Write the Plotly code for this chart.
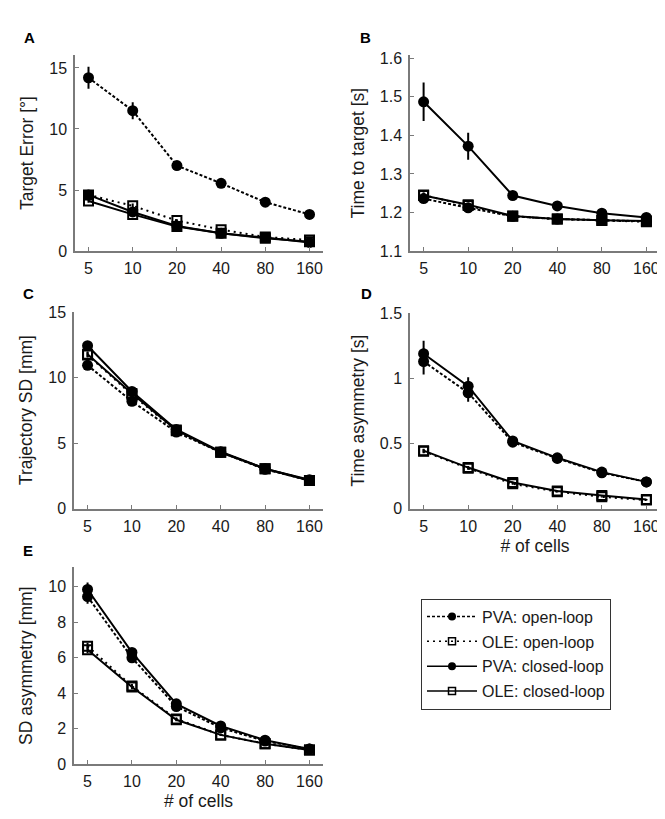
import plotly.graph_objects as go

W, H = 665, 819
cells = [5, 10, 20, 40, 80, 160]
cell_labels = ["5", "10", "20", "40", "80", "160"]

series_names = ["PVA: open-loop", "OLE: open-loop", "PVA: closed-loop", "OLE: closed-loop"]

# Panel A: Target error
A_pva_open = [14.2, 11.5, 7.0, 5.55, 4.0, 3.0]
A_pva_open_err = [0.9, 0.7, 0.35, 0.2, 0.15, 0.12]
A_ole_open = [4.6, 3.7, 2.5, 1.75, 1.15, 0.9]
A_ole_open_err = [0.2, 0.2, 0.1, 0.08, 0.06, 0.05]
A_pva_closed = [4.6, 3.2, 2.05, 1.45, 1.1, 0.7]
A_pva_closed_err = [0.2, 0.15, 0.1, 0.08, 0.06, 0.05]
A_ole_closed = [4.1, 3.0, 2.0, 1.45, 1.05, 0.75]
A_ole_closed_err = [0.15, 0.12, 0.08, 0.06, 0.05, 0.04]

# Panel B: Time to target
B_pva_open = [1.236, 1.212, 1.19, 1.183, 1.18, 1.177]
B_pva_open_err = [0.006, 0.005, 0.003, 0.002, 0.002, 0.002]
B_ole_open = [1.245, 1.218, 1.19, 1.183, 1.179, 1.176]
B_ole_open_err = [0.006, 0.005, 0.003, 0.002, 0.002, 0.002]
B_pva_closed = [1.487, 1.372, 1.244, 1.217, 1.198, 1.187]
B_pva_closed_err = [0.05, 0.035, 0.006, 0.004, 0.003, 0.003]
B_ole_closed = [1.244, 1.22, 1.191, 1.183, 1.18, 1.178]
B_ole_closed_err = [0.008, 0.005, 0.003, 0.002, 0.002, 0.002]

# Panel C: Trajectory SD
C_pva_open = [10.95, 8.2, 5.85, 4.3, 3.0, 2.15]
C_pva_open_err = [0.2, 0.15, 0.1, 0.08, 0.06, 0.05]
C_ole_open = [11.75, 8.7, 5.95, 4.3, 3.05, 2.15]
C_ole_open_err = [0.2, 0.15, 0.1, 0.08, 0.06, 0.05]
C_pva_closed = [12.45, 8.95, 6.05, 4.35, 3.05, 2.2]
C_pva_closed_err = [0.2, 0.15, 0.1, 0.08, 0.06, 0.05]
C_ole_closed = [11.8, 8.8, 6.0, 4.3, 3.05, 2.15]
C_ole_closed_err = [0.2, 0.15, 0.1, 0.08, 0.06, 0.05]

# Panel D: Time asymmetry
D_pva_open = [1.13, 0.89, 0.51, 0.385, 0.275, 0.205]
D_pva_open_err = [0.1, 0.07, 0.015, 0.01, 0.01, 0.008]
D_ole_open = [0.44, 0.31, 0.19, 0.13, 0.09, 0.065]
D_ole_open_err = [0.015, 0.012, 0.008, 0.006, 0.005, 0.004]
D_pva_closed = [1.19, 0.94, 0.52, 0.39, 0.28, 0.205]
D_pva_closed_err = [0.1, 0.07, 0.015, 0.01, 0.01, 0.008]
D_ole_closed = [0.445, 0.315, 0.2, 0.135, 0.1, 0.07]
D_ole_closed_err = [0.015, 0.012, 0.008, 0.006, 0.005, 0.004]

# Panel E: SD asymmetry
E_pva_open = [9.45, 6.0, 3.25, 2.05, 1.3, 0.85]
E_pva_open_err = [0.4, 0.2, 0.12, 0.08, 0.06, 0.05]
E_ole_open = [6.65, 4.4, 2.55, 1.65, 1.15, 0.8]
E_ole_open_err = [0.2, 0.12, 0.08, 0.06, 0.05, 0.04]
E_pva_closed = [9.85, 6.3, 3.4, 2.15, 1.35, 0.85]
E_pva_closed_err = [0.4, 0.2, 0.12, 0.08, 0.06, 0.05]
E_ole_closed = [6.45, 4.35, 2.5, 1.65, 1.15, 0.8]
E_ole_closed_err = [0.2, 0.12, 0.08, 0.06, 0.05, 0.04]

panels = [
    ("A", "Target Error [°]", [0, 16.05], [0, 5, 10, 15], ["0", "5", "10", "15"],
     [(A_pva_open, A_pva_open_err), (A_ole_open, A_ole_open_err),
      (A_pva_closed, A_pva_closed_err), (A_ole_closed, A_ole_closed_err)], False),
    ("B", "Time to target [s]", [1.1, 1.608], [1.1, 1.2, 1.3, 1.4, 1.5, 1.6],
     ["1.1", "1.2", "1.3", "1.4", "1.5", "1.6"],
     [(B_pva_open, B_pva_open_err), (B_ole_open, B_ole_open_err),
      (B_pva_closed, B_pva_closed_err), (B_ole_closed, B_ole_closed_err)], False),
    ("C", "Trajectory SD [mm]", [0, 15.05], [0, 5, 10, 15], ["0", "5", "10", "15"],
     [(C_pva_open, C_pva_open_err), (C_ole_open, C_ole_open_err),
      (C_pva_closed, C_pva_closed_err), (C_ole_closed, C_ole_closed_err)], False),
    ("D", "Time asymmetry [s]", [0, 1.505], [0, 0.5, 1, 1.5], ["0", "0.5", "1", "1.5"],
     [(D_pva_open, D_pva_open_err), (D_ole_open, D_ole_open_err),
      (D_pva_closed, D_pva_closed_err), (D_ole_closed, D_ole_closed_err)], True),
    ("E", "SD asymmetry [mm]", [0, 11.1], [0, 2, 4, 6, 8, 10], ["0", "2", "4", "6", "8", "10"],
     [(E_pva_open, E_pva_open_err), (E_ole_open, E_ole_open_err),
      (E_pva_closed, E_pva_closed_err), (E_ole_closed, E_ole_closed_err)], True),
]

# pixel boxes (left, right, top, bottom)
boxes = [
    (67, 315, 40, 240),
    (402, 652, 40, 240),
    (66, 315, 302, 503),
    (402, 652, 303, 503),
    (66, 315, 563, 764),
]
letter_pos = [(22, 22), (357, 22), (20, 283), (358, 283), (20, 546)]

styles = [
    dict(dash="3px,2px", symbol="circle"),
    dict(dash="2px,4px", symbol="square-open"),
    dict(dash="solid", symbol="circle"),
    dict(dash="solid", symbol="square-open"),
]

FONT = "Liberation Sans, Arial, sans-serif"
AX = "#7a7a7a"
TXT = "#1a1a1a"

fig = go.Figure()
layout = dict(
    width=W, height=H, margin=dict(l=0, r=0, t=0, b=0),
    paper_bgcolor="white", plot_bgcolor="white",
    font=dict(family=FONT, size=16, color=TXT),
    showlegend=True,
)
annotations = []

for i, (letter, ytitle, yr, yt, ytt, data, show_xtitle) in enumerate(panels):
    n = i + 1
    xa = "x" if n == 1 else f"x{n}"
    ya = "y" if n == 1 else f"y{n}"
    l, r, t, b = boxes[i]
    for j, (vals, errs) in enumerate(data):
        st = styles[j]
        is_square = "square" in st["symbol"]
        fig.add_trace(go.Scatter(
            x=cells, y=vals, xaxis=xa, yaxis=ya, mode="lines+markers",
            line=dict(color="black", width=2, dash=st["dash"]),
            marker=dict(symbol=st["symbol"], size=9 if is_square else 11, color="black",
                        line=dict(color="black", width=2 if is_square else 0)),
            error_y=dict(type="data", array=errs, visible=True, color="black",
                         thickness=2, width=0),
            showlegend=False, hoverinfo="skip",
        ))
    layout["xaxis" if n == 1 else f"xaxis{n}"] = dict(
        domain=[l / W, r / W], anchor=ya, type="log", range=[0.607, 2.296],
        tickvals=cells, ticktext=cell_labels, ticks="inside", ticklen=4,
        tickcolor=AX, showline=True, linecolor=AX, linewidth=1.5, showgrid=False,
        zeroline=False, tickfont=dict(size=16, color=TXT), ticklabelstandoff=2,
        title=dict(text="# of cells" if show_xtitle else "", font=dict(size=17.5), standoff=6),
    )
    layout["yaxis" if n == 1 else f"yaxis{n}"] = dict(
        domain=[1 - b / H, 1 - t / H], anchor=xa, range=yr, tickvals=yt, ticktext=ytt,
        ticks="inside", ticklen=4, tickcolor=AX, showline=True, linecolor=AX,
        linewidth=1.5, showgrid=False, zeroline=False, ticklabelstandoff=3,
        tickfont=dict(size=16, color=TXT),
        title=dict(text=ytitle, font=dict(size=17.5), standoff=11),
    )
    lx, ly = letter_pos[i]
    annotations.append(dict(text=f"<b>{letter}</b>", x=lx / W, y=1 - ly / H, xref="paper",
                            yref="paper", showarrow=False, xanchor="center", yanchor="middle",
                            font=dict(size=15, color="black")))

# legend entries (dummy traces with small legend markers)
for j, name in enumerate(series_names):
    st = styles[j]
    is_square = "square" in st["symbol"]
    fig.add_trace(go.Scatter(
        x=[None], y=[None], mode="lines+markers", name=name, legendgroup=f"g{j}",
        line=dict(color="black", width=1.5, dash=st["dash"]),
        marker=dict(symbol=st["symbol"], size=7 if is_square else 8, color="black",
                    line=dict(color="black", width=1.5 if is_square else 0)),
        showlegend=True,
    ))

layout["legend"] = dict(
    x=413 / W, y=1 - 595 / H, xanchor="left", yanchor="top",
    bordercolor="#333333", borderwidth=1, bgcolor="white",
    font=dict(size=16, family=FONT, color=TXT),
    itemwidth=50, tracegroupgap=1,
)
layout["annotations"] = annotations
fig.update_layout(**layout)
fig.write_html("out.html")
